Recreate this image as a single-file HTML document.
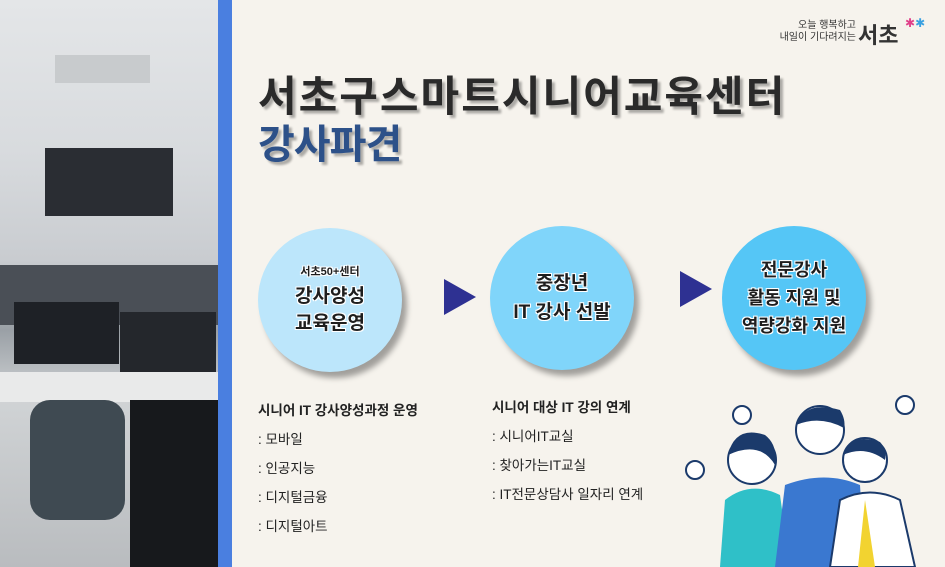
<!DOCTYPE html>
<html><head><meta charset="utf-8"><style>
body{margin:0;width:945px;height:567px;overflow:hidden;background:#f6f3ed;font-family:"Liberation Sans","Noto Sans CJK KR",sans-serif;position:relative}
.a{position:absolute}
.c{position:absolute;width:144px;height:144px;border-radius:50%;box-shadow:5px 6px 6px rgba(0,0,0,.35);display:flex;flex-direction:column;align-items:center;justify-content:center;text-align:center;font-weight:bold;color:#1e1e1e;text-shadow:1px 1px 0 #fff,-1px -1px 0 #fff,1px -1px 0 #fff,-1px 1px 0 #fff}
.ar{position:absolute;width:0;height:0;border-top:18px solid transparent;border-bottom:18px solid transparent;border-left:32px solid #2e3192}
.t{font-size:13.5px;color:#222;line-height:29px}
</style></head><body>
<!-- photo -->
<div class="a" style="left:0;top:0;width:218px;height:567px;background:linear-gradient(#e4e6e8 0,#d8dbde 150px,#c9ccd0 260px,#9aa0a6 330px,#d0d3d5 400px,#b9bcbf 567px)"></div>
<div class="a" style="left:55px;top:55px;width:95px;height:28px;background:#c8cbcd"></div>
<div class="a" style="left:45px;top:148px;width:128px;height:68px;background:#2a2d33"></div>
<div class="a" style="left:0;top:265px;width:218px;height:60px;background:#4a4f56"></div>
<div class="a" style="left:14px;top:302px;width:105px;height:62px;background:#1e2126"></div>
<div class="a" style="left:120px;top:312px;width:96px;height:60px;background:#24272c"></div>
<div class="a" style="left:0;top:372px;width:218px;height:30px;background:#e9eaea"></div>
<div class="a" style="left:30px;top:400px;width:95px;height:120px;background:#3f4a52;border-radius:20px"></div>
<div class="a" style="left:130px;top:400px;width:88px;height:167px;background:#17191c"></div>
<div class="a" style="left:218px;top:0;width:14px;height:567px;background:#4a7fe0"></div>
<!-- logo -->
<div class="a" style="left:760px;top:20px;font-size:10px;color:#333;line-height:12px;text-align:right;width:96px;white-space:nowrap">오늘 행복하고<br>내일이 기다려지는</div>
<div class="a" style="left:858px;top:18px;font-size:22px;font-weight:bold;color:#333">서초</div>
<div class="a" style="left:905px;top:16px;font-size:12px;color:#e0408a">✱<span style="color:#3aa0e0">✱</span></div>
<!-- title -->
<div class="a" style="left:258px;top:72px;font-size:42px;font-weight:bold;color:#2a2a2a;letter-spacing:2px;text-shadow:3px 3px 2px rgba(0,0,0,.3);line-height:50px;white-space:nowrap">서초구스마트시니어교육센터</div>
<div class="a" style="left:258px;top:120px;font-size:40px;font-weight:bold;color:#2d5189;letter-spacing:-1px;text-shadow:3px 3px 2px rgba(0,0,0,.3);line-height:50px">강사파견</div>
<!-- circles -->
<div class="c" style="left:258px;top:228px;background:#bce6fb"><div style="font-size:11px">서초50+센터</div><div style="font-size:19px;line-height:27px;margin-top:4px">강사양성<br>교육운영</div></div>
<div class="ar" style="left:444px;top:279px"></div>
<div class="c" style="left:490px;top:226px;background:#80d5fa"><div style="font-size:19px;line-height:29px">중장년<br>IT 강사 선발</div></div>
<div class="ar" style="left:680px;top:271px"></div>
<div class="c" style="left:722px;top:226px;background:#55c6f6"><div style="font-size:18px;line-height:28px">전문강사<br>활동 지원 및<br>역량강화 지원</div></div>
<!-- text -->
<div class="a t" style="left:258px;top:396px"><b>시니어 IT 강사양성과정 운영</b><br>: 모바일<br>: 인공지능<br>: 디지털금융<br>: 디지털아트</div>
<div class="a t" style="left:492px;top:393px"><b>시니어 대상 IT 강의 연계</b><br>: 시니어IT교실<br>: 찾아가는IT교실<br>: IT전문상담사 일자리 연계</div>
<!-- people -->
<svg class="a" style="left:680px;top:390px" width="265" height="177">
<path d="M40 177 L45 110 Q70 90 100 105 L110 177Z" fill="#2fc0c8"/>
<circle cx="72" cy="70" r="24" fill="#fff" stroke="#1b3a6b" stroke-width="2"/>
<path d="M48 65 Q55 35 85 45 Q98 55 95 75 Q80 50 48 65Z" fill="#1b3a6b"/>
<path d="M95 177 L105 95 Q145 80 180 95 L185 177Z" fill="#3a78d0"/>
<circle cx="140" cy="40" r="24" fill="#fff" stroke="#1b3a6b" stroke-width="2"/>
<path d="M116 35 Q125 10 160 20 Q166 30 164 38 Q140 25 116 35Z" fill="#1b3a6b"/>
<path d="M150 177 L160 110 Q190 95 220 110 L235 177Z" fill="#fff" stroke="#1b3a6b" stroke-width="2"/>
<path d="M185 110 L178 177 L195 177Z" fill="#f2d330"/>
<circle cx="185" cy="70" r="22" fill="#fff" stroke="#1b3a6b" stroke-width="2"/>
<path d="M163 65 Q170 42 200 52 Q207 60 205 70 Q185 55 163 65Z" fill="#1b3a6b"/>
<circle cx="15" cy="80" r="9" fill="#fff" stroke="#1b3a6b" stroke-width="2"/>
<circle cx="62" cy="25" r="9" fill="#fff" stroke="#1b3a6b" stroke-width="2"/>
<circle cx="225" cy="15" r="9" fill="#fff" stroke="#1b3a6b" stroke-width="2"/>
</svg>
</body></html>
